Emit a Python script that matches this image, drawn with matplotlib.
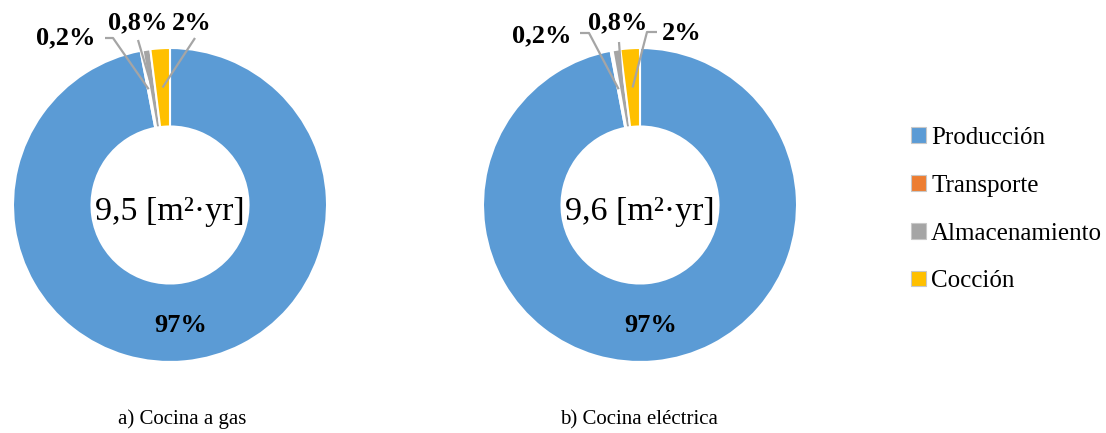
import matplotlib
matplotlib.use('Agg')
import matplotlib.pyplot as plt
import numpy as np
from matplotlib.patches import Patch

# ---- data ----
categories = ['Producción', 'Transporte', 'Almacenamiento', 'Cocción']
colors = ['#5B9BD5', '#ED7D31', '#A5A5A5', '#FFC000']
gas_values = [97.0, 0.2, 0.8, 2.0]
elec_values = [97.0, 0.2, 0.8, 2.0]
gas_labels = ['97%', '0,2%', '0,8%', '2%']
elec_labels = ['97%', '0,2%', '0,8%', '2%']
centre_texts = ['9,5 [m²·yr]', '9,6 [m²·yr]']
titles = ['a) Cocina a gas', 'b) Cocina eléctrica']

plt.rcParams['font.family'] = ['Liberation Serif', 'DejaVu Serif']

W, H = 1106, 433
fig = plt.figure(figsize=(W / 100, H / 100), dpi=100)
ax = fig.add_axes([0, 0, 1, 1])


def py(y):
    return H - y


R = 157
RING = 0.5

layouts = [
    dict(values=gas_values, labels=gas_labels, centre=(170, 205),
         centre_text=centre_texts[0], title=titles[0], title_pos=(182, 419),
         small=[  # text pos, line path start points (before wedge point)
             dict(pos=(66, 38), path=[(105, 38), (113, 38)]),
             dict(pos=(138, 23), path=[(138, 40)]),
             dict(pos=(192, 23), path=[(195, 38)]),
         ]),
    dict(values=elec_values, labels=elec_labels, centre=(640, 205),
         centre_text=centre_texts[1], title=titles[1], title_pos=(639, 420),
         small=[
             dict(pos=(542, 36), path=[(580, 33), (589, 33)]),
             dict(pos=(618, 23), path=[(619, 42)]),
             dict(pos=(682, 33), path=[(657, 32), (647, 32)]),
         ]),
]

for lay in layouts:
    cx, cy = lay['centre']
    wedges, _ = ax.pie(lay['values'], colors=colors, startangle=90,
                       counterclock=False, radius=R, center=(cx, py(cy)),
                       wedgeprops=dict(width=R * RING, edgecolor='white',
                                       linewidth=1.5),
                       frame=True)
    rmid = R * (1 - RING / 2)
    # centre text
    ax.text(cx, py(212), lay['centre_text'], ha='center', va='center',
            fontsize=24.5, color='black')
    # main label at the middle of the big slice
    w0 = wedges[0]
    a0 = np.deg2rad((w0.theta1 + w0.theta2) / 2)
    ax.text(cx + rmid * np.cos(a0), py(cy) + rmid * np.sin(a0) - 3,
            lay['labels'][0], ha='center', va='center',
            fontsize=19, fontweight='bold', color='black')
    for k, info in enumerate(lay['small']):
        w = wedges[k + 1]
        ang = np.deg2rad((w.theta1 + w.theta2) / 2)
        ex = cx + rmid * np.cos(ang)
        ey = py(cy) + rmid * np.sin(ang)
        xs = [p[0] for p in info['path']] + [ex]
        ys = [py(p[1]) for p in info['path']] + [ey]
        ax.plot(xs, ys, color='#A5A5A5', lw=1.6, solid_capstyle='butt')
        tx, ty = info['pos']
        ax.text(tx, py(ty), lay['labels'][k + 1], ha='center', va='center',
                fontsize=19, fontweight='bold', color='black')
    tx, ty = lay['title_pos']
    ax.text(tx, py(ty), lay['title'], ha='center', va='center', fontsize=15,
            color='black')

ax.set_xlim(0, W)
ax.set_ylim(0, H)
ax.set_aspect('equal')
ax.axis('off')

handles = [Patch(facecolor=c, edgecolor='#C8C8C8', linewidth=0.8)
           for c in colors]
fig.legend(handles, categories, loc='upper left',
           bbox_to_anchor=(911 / W, 1 - 127 / H), frameon=False,
           fontsize=18, handlelength=0.6, handleheight=0.6,
           handletextpad=0.2, labelspacing=1.03, borderpad=0, borderaxespad=0)

fig.savefig('out.png', dpi=100, facecolor='white')
